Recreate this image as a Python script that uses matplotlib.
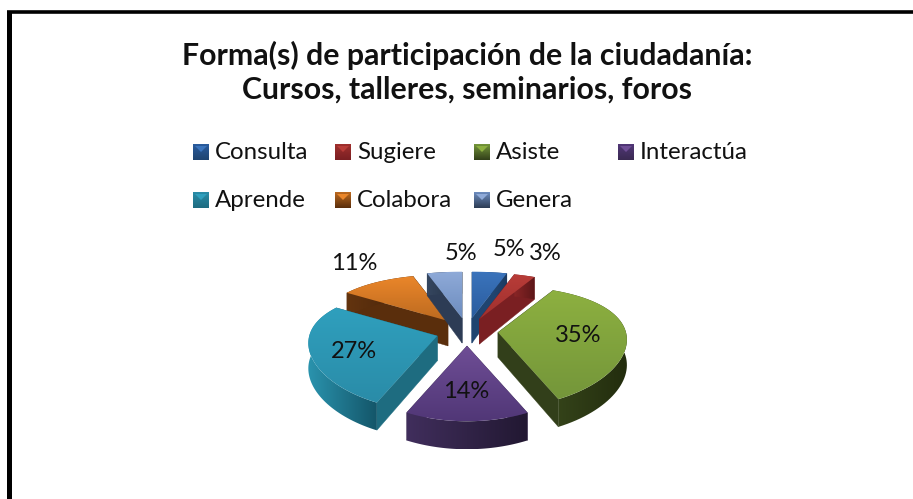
import numpy as np
import matplotlib
matplotlib.use("Agg")
import matplotlib.pyplot as plt
from matplotlib.colors import to_rgb
from matplotlib.patches import Polygon

categorias = ['Consulta', 'Sugiere', 'Asiste', 'Interactúa', 'Aprende', 'Colabora', 'Genera']
valores = [5, 3, 35, 14, 27, 11, 5]

# colores: cara superior (claro, oscuro), pared, borde (claro, oscuro)
sup_claro = ['#3B74BC', '#B83C38', '#8DB040', '#6F4E96', '#2F9FBD', '#EA862A', '#8FAAD8']
sup_oscuro = ['#2A5C9E', '#A0302E', '#74963A', '#513777', '#2A8CA8', '#BC6A20', '#6D8DBF']
pared = ['#1F4470', '#7A1F22', '#323F1A', '#3A2A52', '#1E6C80', '#5A2E0C', '#2D3C55']
borde_claro = ['#2A5488', '#8A2526', '#35441A', '#402E5C', '#2A93AD', '#63340F', '#35465F']
borde_oscuro = ['#1C3A60', '#5C1719', '#232D0E', '#221832', '#14566A', '#46230A', '#232F42']

# geometria en pixeles de la imagen
cx, cy = 467, 332
ex, ey = 31, 14
rx, ry = 128, 60
prof = 25
persp = 0.12

plt.rcParams['font.family'] = ['Lato', 'DejaVu Sans']

fig = plt.figure(figsize=(9.13, 4.99), dpi=100)
ax = fig.add_axes([0, 0, 1, 1])
ax.set_xlim(0, 913)
ax.set_ylim(499, 0)
ax.axis('off')


def degradado(xy, c1, c2, vertical=True, z=1):
    xy = np.asarray(xy)
    n = 64
    t = np.linspace(0, 1, n)
    img = np.outer(t, np.array(to_rgb(c2))) + np.outer(1 - t, np.array(to_rgb(c1)))
    img = img.reshape(n, 1, 3) if vertical else img.reshape(1, n, 3)
    x0, x1 = xy[:, 0].min(), xy[:, 0].max()
    y0, y1 = xy[:, 1].min(), xy[:, 1].max()
    im = ax.imshow(img, extent=(x0, x1, y1, y0), aspect='auto', zorder=z, interpolation='bilinear')
    parche = Polygon(xy, closed=True, transform=ax.transData, fc='none', ec='none')
    ax.add_patch(parche)
    im.set_clip_path(parche)
    return im


def proyecta(ang, ox, oy, r=1.0):
    x = np.sin(ang) * r
    y = np.cos(ang) * r
    s = 1 - persp * y
    return ox + rx * x * s, oy - ry * y * s ** 2, s


total = sum(valores)
fin = np.cumsum(valores) / total * 2 * np.pi
ini = np.r_[0, fin[:-1]]

# de atras hacia adelante
orden = [5, 6, 0, 1, 4, 2, 3]
z = 2
for i in orden:
    medio = (ini[i] + fin[i]) / 2
    ox = cx + ex * np.sin(medio)
    oy = cy - ey * np.cos(medio)
    t = np.linspace(ini[i], fin[i], 60)
    ax_x, ax_y, s = proyecta(t, ox, oy)
    arco = np.c_[ax_x, ax_y]
    abajo = np.c_[ax_x, ax_y + prof * s]
    apice = np.array([ox, oy])
    apice_b = np.array([ox, oy + prof])

    # paredes radiales
    for k in (0, -1):
        ax.add_patch(Polygon([apice, arco[k], abajo[k], apice_b], closed=True,
                             fc=pared[i], ec=pared[i], lw=0.3, zorder=z))
    # borde exterior
    degradado(np.r_[arco, abajo[::-1]], borde_claro[i], borde_oscuro[i], vertical=False, z=z + 1)
    # cara superior
    degradado(np.r_[[apice], arco], sup_claro[i], sup_oscuro[i], z=z + 2)
    z += 3

# etiquetas de porcentaje
etiq_x = [509, 545, 578, 466, 354, 354, 461]
etiq_y = [249, 254, 335, 391, 351, 264, 254]
for v, x, y in zip(valores, etiq_x, etiq_y):
    ax.text(x, y, f'{v}%', fontsize=17, color='#111111', ha='center', va='center', zorder=50)

# leyenda
cuad_x = [193, 335, 474, 618, 193, 335, 474]
cuad_y = [152, 152, 152, 152, 200, 200, 200]
lado = 16
for i, nombre in enumerate(categorias):
    x, y = cuad_x[i], cuad_y[i]
    esquinas = [(x, y - lado / 2), (x + lado, y - lado / 2), (x + lado, y + lado / 2), (x, y + lado / 2)]
    degradado(esquinas, sup_oscuro[i], pared[i], z=40)
    ax.add_patch(Polygon([(x + 2, y - lado / 2 + 2), (x + lado - 2, y - lado / 2 + 2), (x + lado / 2, y)],
                         closed=True, fc=sup_claro[i], ec='none', zorder=41))
    ax.text(x + 22, y + 0.5, nombre, fontsize=17.3, color='#111111', ha='left', va='center', zorder=50)

# titulo
ax.text(467, 55, 'Forma(s) de participación de la ciudadanía:', fontsize=21.8, fontweight='bold',
        color='#111111', ha='center', va='center', zorder=50)
ax.text(467, 90, 'Cursos, talleres, seminarios, foros', fontsize=21.8, fontweight='bold',
        color='#111111', ha='center', va='center', zorder=50)

# marco (solo arriba e izquierda)
ax.plot([8.5, 8.5], [499, 11.5], color='black', lw=3.6, solid_capstyle='butt', zorder=60)
ax.plot([6.5, 913], [11.5, 11.5], color='black', lw=2.6, solid_capstyle='butt', zorder=60)

ax.set_xlim(0, 913)
ax.set_ylim(499, 0)
fig.savefig('out.png', dpi=100, facecolor='white')
